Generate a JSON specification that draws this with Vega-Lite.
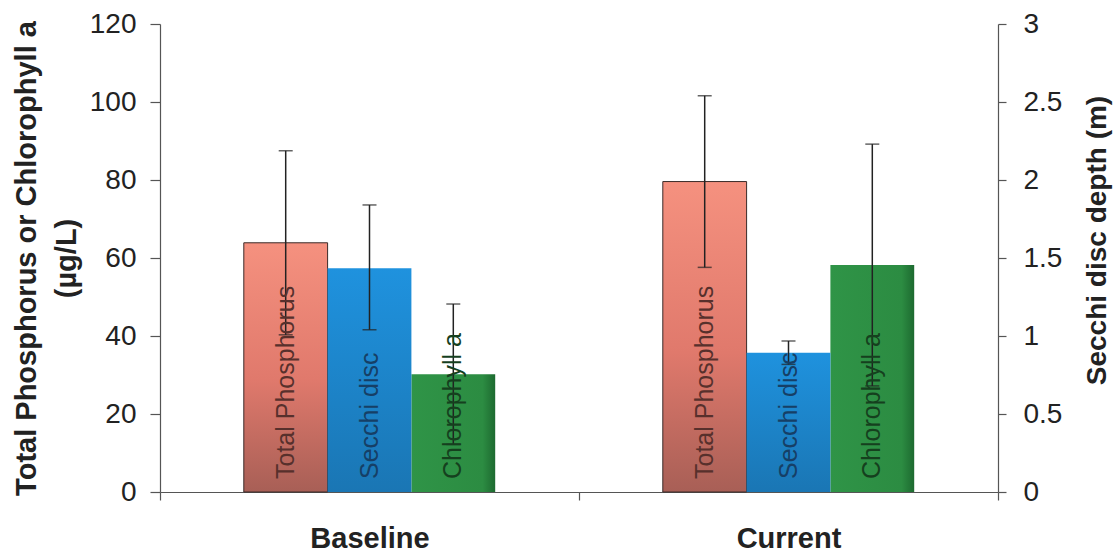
{
  "$schema": "https://vega.github.io/schema/vega-lite/v6.json",
  "width": 838,
  "height": 468,
  "autosize": {"type": "none"},
  "padding": {"left": 160, "top": 24, "right": 115, "bottom": 62},
  "background": "white",
  "config": {
    "view": {"stroke": null},
    "font": "Liberation Sans",
    "axis": {
      "domainColor": "#555",
      "tickColor": "#555",
      "labelColor": "#222",
      "titleColor": "#222",
      "labelFont": "Liberation Sans",
      "titleFont": "Liberation Sans",
      "grid": false,
      "domainWidth": 1.2,
      "tickWidth": 1.2
    }
  },
  "data": {
    "values": [
      {"period": "Baseline", "series": "Total Phosphorus", "value": 63.9, "lo": 40.3, "hi": 87.5},
      {"period": "Baseline", "series": "Secchi disc", "value": 1.434, "lo": 1.04, "hi": 1.84},
      {"period": "Baseline", "series": "Chlorophyll a", "value": 30.2, "lo": 12.2, "hi": 48.2},
      {"period": "Current", "series": "Total Phosphorus", "value": 79.6, "lo": 57.6, "hi": 101.6},
      {"period": "Current", "series": "Secchi disc", "value": 0.893, "lo": 0.818, "hi": 0.968},
      {"period": "Current", "series": "Chlorophyll a", "value": 58.2, "lo": 27.2, "hi": 89.2}
    ]
  },
  "encoding": {
    "x": {
      "field": "period",
      "type": "nominal",
      "scale": {"domain": ["Baseline", "Current"], "paddingInner": 0, "paddingOuter": 0},
      "axis": {
        "title": null,
        "labelAngle": 0,
        "labelFontSize": 29,
        "labelFontWeight": "bold",
        "tickBand": "extent",
        "tickSize": 8,
        "labelPadding": 24
      }
    },
    "xOffset": {
      "field": "series",
      "type": "nominal",
      "scale": {"domain": ["Total Phosphorus", "Secchi disc", "Chlorophyll a"], "paddingInner": 0, "paddingOuter": 1.076}
    }
  },
  "layer": [
    {
      "transform": [{"filter": "datum.series !== 'Secchi disc'"}],
      "layer": [
        {
          "transform": [{"filter": "datum.series === 'Total Phosphorus'"}],
          "mark": {
            "type": "bar",
            "fill": {"gradient": "linear", "x1": 0, "y1": 0, "x2": 0, "y2": 1, "stops": [{"offset": 0, "color": "#f5917f"}, {"offset": 0.55, "color": "#e0796c"}, {"offset": 1, "color": "#a85f56"}]},
            "stroke": "#3a2a28",
            "strokeWidth": 1
          },
          "encoding": {
            "y": {
              "field": "value",
              "type": "quantitative",
              "scale": {"domain": [0, 120], "nice": false},
              "axis": {
                "orient": "left",
                "title": ["Total Phosphorus or Chlorophyll a", "(µg/L)"],
                "values": [0, 20, 40, 60, 80, 100, 120],
                "labelFontSize": 28,
                "titleFontSize": 29,
                "titleFontWeight": "bold",
                "tickSize": 10,
                "labelPadding": 14,
                "titlePadding": 8,
                "titleLineHeight": 40
              }
            }
          }
        },
        {
          "transform": [{"filter": "datum.series === 'Chlorophyll a'"}],
          "mark": {
            "type": "bar",
            "fill": {"gradient": "linear", "x1": 0, "y1": 0, "x2": 1, "y2": 0, "stops": [{"offset": 0, "color": "#2f9447"}, {"offset": 0.85, "color": "#2c8c42"}, {"offset": 1, "color": "#1d6a30"}]}
          },
          "encoding": {"y": {"field": "value", "type": "quantitative"}}
        },
        {
          "mark": {"type": "rule", "color": "#222", "strokeWidth": 1.5},
          "encoding": {"y": {"field": "lo", "type": "quantitative"}, "y2": {"field": "hi"}}
        },
        {
          "mark": {"type": "tick", "color": "#222", "size": 14, "thickness": 1.5},
          "encoding": {"y": {"field": "hi", "type": "quantitative"}}
        },
        {
          "mark": {"type": "tick", "color": "#222", "size": 14, "thickness": 1.5},
          "encoding": {"y": {"field": "lo", "type": "quantitative"}}
        },
        {
          "mark": {"type": "text", "angle": 270, "align": "left", "baseline": "middle", "dx": 13, "fontSize": 25},
          "encoding": {
            "y": {"datum": 0},
            "text": {"field": "series"},
            "color": {
              "field": "series",
              "type": "nominal",
              "scale": {"domain": ["Total Phosphorus", "Chlorophyll a"], "range": ["#57302c", "#15401e"]},
              "legend": null
            }
          }
        }
      ]
    },
    {
      "transform": [{"filter": "datum.series === 'Secchi disc'"}],
      "layer": [
        {
          "mark": {
            "type": "bar",
            "fill": {"gradient": "linear", "x1": 0, "y1": 0, "x2": 0, "y2": 1, "stops": [{"offset": 0, "color": "#1f92de"}, {"offset": 1, "color": "#1a76b4"}]}
          },
          "encoding": {
            "y": {
              "field": "value",
              "type": "quantitative",
              "scale": {"domain": [0, 3], "nice": false},
              "axis": {
                "orient": "right",
                "title": "Secchi disc depth (m)",
                "values": [0, 0.5, 1, 1.5, 2, 2.5, 3],
                "format": "~g",
                "labelFontSize": 28,
                "titleFontSize": 28,
                "titleFontWeight": "bold",
                "titleAngle": 270,
                "tickSize": 8,
                "labelPadding": 17,
                "titlePadding": 50,
                "titleY": 216
              }
            }
          }
        },
        {
          "mark": {"type": "rule", "color": "#222", "strokeWidth": 1.5},
          "encoding": {"y": {"field": "lo", "type": "quantitative"}, "y2": {"field": "hi"}}
        },
        {
          "mark": {"type": "tick", "color": "#222", "size": 14, "thickness": 1.5},
          "encoding": {"y": {"field": "hi", "type": "quantitative"}}
        },
        {
          "mark": {"type": "tick", "color": "#222", "size": 14, "thickness": 1.5},
          "encoding": {"y": {"field": "lo", "type": "quantitative"}}
        },
        {
          "mark": {"type": "text", "angle": 270, "align": "left", "baseline": "middle", "dx": 13, "fontSize": 25, "color": "#163f66"},
          "encoding": {
            "y": {"datum": 0},
            "text": {"field": "series"}
          }
        }
      ]
    }
  ],
  "resolve": {"scale": {"y": "independent"}}
}
